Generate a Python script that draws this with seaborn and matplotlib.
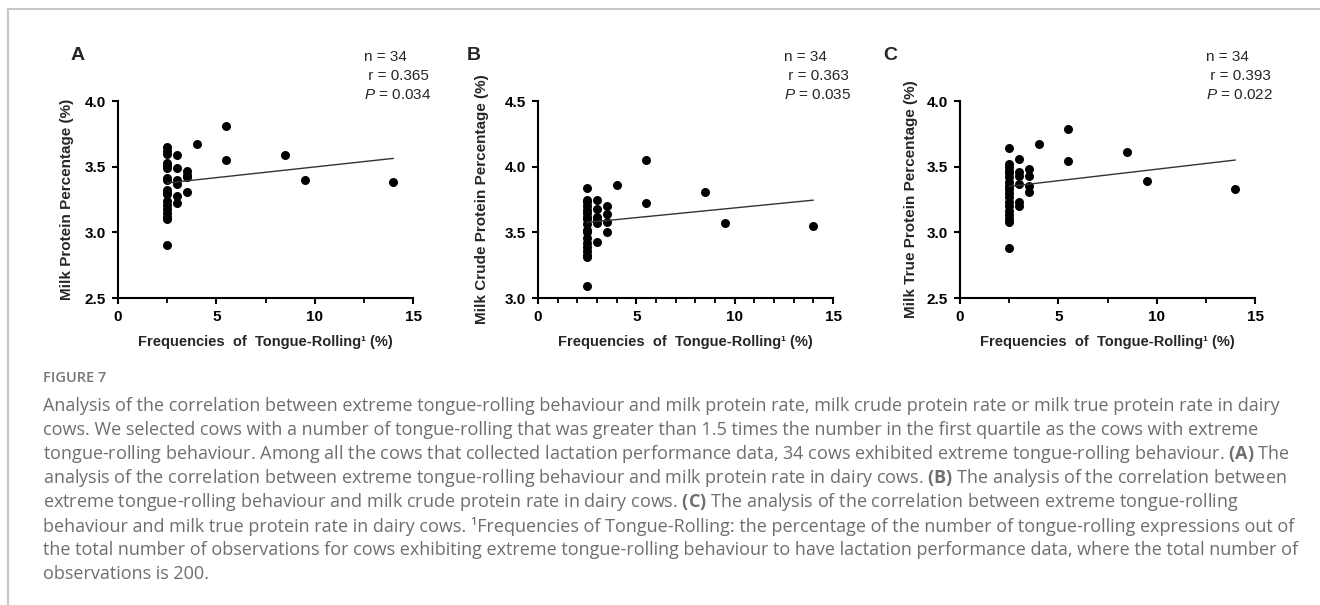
import numpy as np
import pandas as pd
import seaborn as sns
import matplotlib.pyplot as plt
from matplotlib.lines import Line2D

# Frequencies of tongue-rolling (%) for the 34 cows
freq = [2.5] * 18 + [3.0] * 6 + [3.5] * 4 + [4.0, 5.5, 5.5, 8.5, 9.5, 14.0]

# Milk protein percentage (%)
protein = [3.65, 3.62, 3.60, 3.53, 3.51, 3.49, 3.41, 3.40, 3.32, 3.30, 3.29, 3.24, 3.21, 3.18, 3.15, 3.12, 3.10, 2.90,
           3.59, 3.49, 3.40, 3.37, 3.28, 3.22,
           3.47, 3.44, 3.42, 3.31,
           3.67, 3.81, 3.55, 3.59, 3.40, 3.38]

# Milk crude protein percentage (%)
crude = [3.84, 3.75, 3.73, 3.70, 3.67, 3.65, 3.62, 3.60, 3.56, 3.52, 3.50, 3.46, 3.42, 3.39, 3.36, 3.33, 3.31, 3.09,
         3.75, 3.68, 3.62, 3.60, 3.57, 3.43,
         3.70, 3.64, 3.58, 3.50,
         3.86, 4.05, 3.72, 3.81, 3.57, 3.55]

# Milk true protein percentage (%)
true_protein = [3.64, 3.52, 3.50, 3.47, 3.45, 3.42, 3.38, 3.35, 3.33, 3.30, 3.27, 3.23, 3.20, 3.16, 3.13, 3.10, 3.08, 2.88,
                3.56, 3.46, 3.43, 3.37, 3.23, 3.20,
                3.48, 3.43, 3.35, 3.31,
                3.67, 3.79, 3.54, 3.61, 3.39, 3.33]

panel_letters = ['A', 'B', 'C']
y_labels = ['Milk Protein Percentage (%)', 'Milk Crude Protein Percentage (%)', 'Milk True Protein Percentage (%)']
y_limits = [(2.5, 4.0), (3.0, 4.5), (2.5, 4.0)]
y_ticks = [[2.5, 3.0, 3.5, 4.0], [3.0, 3.5, 4.0, 4.5], [2.5, 3.0, 3.5, 4.0]]
x_minor_step = [2.5, 1.0, 2.5]
n_values = [34, 34, 34]
r_values = ['0.365', '0.363', '0.393']
p_values = ['0.034', '0.035', '0.022']

caption_lines = [
    "Analysis of the correlation between extreme tongue-rolling behaviour and milk protein rate, milk crude protein rate or milk true protein rate in dairy",
    "cows. We selected cows with a number of tongue-rolling that was greater than 1.5 times the number in the first quartile as the cows with extreme",
    "tongue-rolling behaviour. Among all the cows that collected lactation performance data, 34 cows exhibited extreme tongue-rolling behaviour. $\\mathbf{(A)}$ The",
    "analysis of the correlation between extreme tongue-rolling behaviour and milk protein rate in dairy cows. $\\mathbf{(B)}$ The analysis of the correlation between",
    "extreme tongue-rolling behaviour and milk crude protein rate in dairy cows. $\\mathbf{(C)}$ The analysis of the correlation between extreme tongue-rolling",
    "behaviour and milk true protein rate in dairy cows. \u00b9Frequencies of Tongue-Rolling: the percentage of the number of tongue-rolling expressions out of",
    "the total number of observations for cows exhibiting extreme tongue-rolling behaviour to have lactation performance data, where the total number of",
    "observations is 200.",
]

df = pd.DataFrame({'freq': freq, 'protein': protein, 'crude': crude, 'true_protein': true_protein})
columns = ['protein', 'crude', 'true_protein']

sns.set_style('ticks')
plt.rcParams['font.family'] = ['Liberation Sans', 'DejaVu Sans']
plt.rcParams['mathtext.fontset'] = 'custom'
plt.rcParams['mathtext.it'] = 'Liberation Sans:italic'
plt.rcParams['mathtext.bf'] = 'Open Sans:bold'
plt.rcParams['mathtext.rm'] = 'Open Sans'

W, H = 1320, 605
fig = plt.figure(figsize=(W / 100, H / 100), dpi=100)

axes_left = [118, 538, 960]
label_x = [-0.149, -0.166, -0.142]
letter_x = [78, 474, 890]

for i, col in enumerate(columns):
    ax = fig.add_axes([axes_left[i] / W, 1 - 298 / H, 295 / W, 197 / H])
    sns.regplot(data=df, x='freq', y=col, ax=ax, ci=None, truncate=True,
                scatter_kws={'s': 42, 'color': 'black', 'linewidths': 0, 'alpha': 1},
                line_kws={'color': '#333333', 'lw': 1.0})
    ax.set_xlim(0, 15)
    ax.set_ylim(*y_limits[i])
    ax.set_xticks([0, 5, 10, 15])
    ax.set_xticks(np.arange(0, 15.01, x_minor_step[i]), minor=True)
    ax.set_yticks(y_ticks[i])
    ax.set_yticklabels([f'{t:.1f}' for t in y_ticks[i]])
    sns.despine(ax=ax)
    for s in ['left', 'bottom']:
        ax.spines[s].set_linewidth(1.5)
        ax.spines[s].set_color('black')
    ax.tick_params(which='major', direction='out', length=4.5, width=1.5, labelsize=11, pad=4, colors='black')
    ax.tick_params(which='minor', direction='out', length=3.5, width=1.3, colors='black')
    for lab in ax.get_xticklabels() + ax.get_yticklabels():
        lab.set_fontweight('bold')
    ax.set_xlabel('Frequencies  of  Tongue-Rolling\u00b9 (%)', fontsize=10.5, fontweight='bold', labelpad=8)
    ax.set_ylabel(y_labels[i], fontsize=11, fontweight='bold')
    ax.yaxis.set_label_coords(label_x[i], 0.5)

    ax.text(0.835, 1.223, f'n = {n_values[i]}', transform=ax.transAxes, fontsize=11, va='center', ha='left')
    ax.text(0.835, 1.127, f' r = {r_values[i]}', transform=ax.transAxes, fontsize=11, va='center', ha='left')
    ax.text(0.835, 1.03, f'$P$ = {p_values[i]}', transform=ax.transAxes, fontsize=11, va='center', ha='left')

    fig.text(letter_x[i] / W, 1 - 55 / H, panel_letters[i], fontsize=14, fontweight='bold', ha='center', va='center')

# frame of the figure card
fig.add_artist(Line2D([8 / W, 8 / W], [0, 1 - 9 / H], color='#c8c8c8', lw=1.5))
fig.add_artist(Line2D([8 / W, 1], [1 - 9 / H, 1 - 9 / H], color='#c8c8c8', lw=1.5))

# caption
fig.text(43 / W, 1 - 378 / H, 'FIGURE 7', fontsize=10.5, color='#777777', family='Open Sans',
         fontweight='semibold', va='center', ha='left')
for k, line in enumerate(caption_lines):
    fig.text(43 / W, 1 - (406 + 24 * k) / H, line, fontsize=13, color='#6e6e6e', family='Open Sans',
             va='center', ha='left')

plt.savefig('out.png', dpi=100)
